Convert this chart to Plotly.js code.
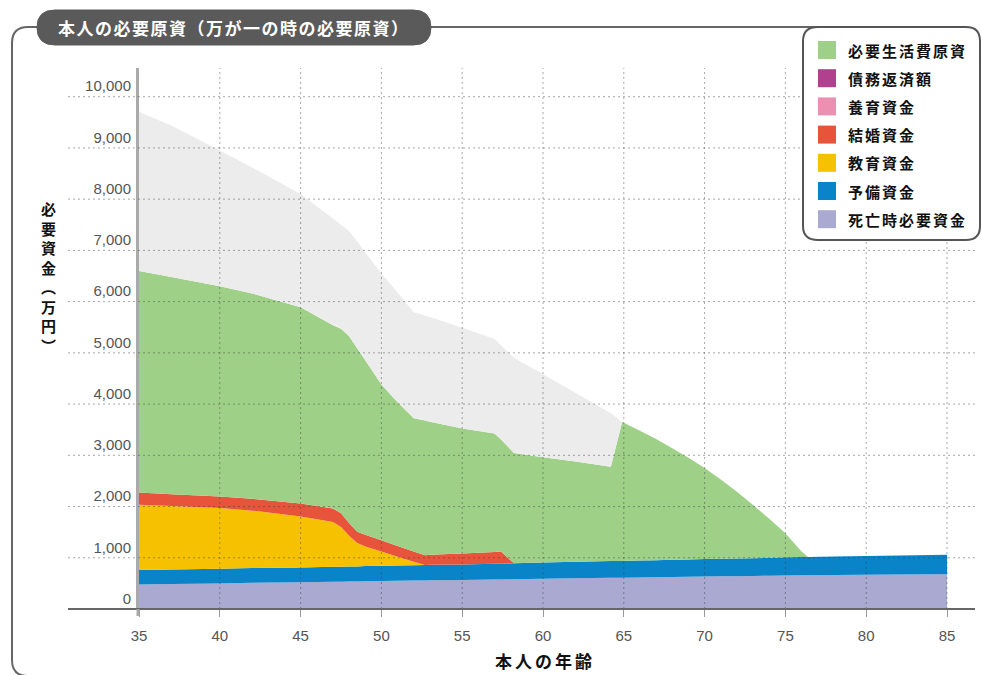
<!DOCTYPE html>
<html>
<head>
<meta charset="utf-8">
<script src="https://cdn.plot.ly/plotly-3.0.1.min.js"></script>
<style>html,body{margin:0;padding:0;background:#fff;}</style>
</head>
<body>
<div id="chart" style="width:981px;height:675px;"></div>
<script>
// ---- data (万円), stacked from the bottom ----
const AGES = [35,37,40,42,45,47,47.5,48,48.5,49,50,51,52,52.7,53,55,57,57.4,58.2,60,62,64.2,64.9,66,67,68,69,70,71,72,73,74,75,76,76.4,78,80,82,85];
const DEATH_FUND = [480,490,500,510,520,530,530,535,535,540,545,550,555,555,560,565,575,575,580,590,600,610,610,615,620,625,630,635,640,640,645,650,655,660,660,665,670,675,680];
const RESERVE_FUND = [280,283,285,288,290,293,293,295,295,297,298,300,300,302,302,305,310,310,312,316,320,325,327,330,332,335,338,340,343,345,348,350,353,355,356,360,364,368,377];
const EDUCATION_FUND = [1275,1237,1185,1122,996,877,777,600,460,385,279,170,65,0,0,0,0,0,0,0,0,0,0,0,0,0,0,0,0,0,0,0,0,0,0,0,0,0,0];
const MARRIAGE_FUND = [241,230,228,230,255,260,270,250,220,228,218,210,200,193,198,215,230,235,0,0,0,0,0,0,0,0,0,0,0,0,0,0,0,0,0,0,0,0,0];
const CHILDCARE_FUND = [0,0,0,0,0,0,0,0,0,0,0,0,0,0,0,0,0,0,0,0,0,0,0,0,0,0,0,0,0,0,0,0,0,0,0,0,0,0,0];
const DEBT_REPAY = [0,0,0,0,0,0,0,0,0,0,0,0,0,0,0,0,0,0,0,0,0,0,0,0,0,0,0,0,0,0,0,0,0,0,0,0,0,0,0];
const LIVING_FUND = [4324,4240,4102,4010,3829,3580,3600,3645,3580,3405,3044,2805,2604,2627,2597,2438,2310,2190,2155,2054,1960,1840,2713,2535,2368,2180,1982,1775,1547,1305,1037,760,472,105,0,0,0,0,0];
const GRAY_BAND = [3100,2960,2650,2460,2210,2080,2030,2055,2090,2105,2166,2145,2066,2053,2043,1967,1845,1840,1858,1620,1340,1045,0,0,0,0,0,0,0,0,0,0,0,0,0,0,0,0,0];

const LEGEND_NAMES = ['必要生活費原資','債務返済額','養育資金','結婚資金','教育資金','予備資金','死亡時必要資金'];
const LEGEND_COLORS = ['#9ed088','#b0418e','#ec90b2','#e8543b','#f6c200','#0a84c9','#a9a9d1'];
const X_TICKS = [35,40,45,50,55,60,65,70,75,80,85];
const Y_TICKS = [0,1000,2000,3000,4000,5000,6000,7000,8000,9000,10000];
const TITLE = '本人の必要原資（万が一の時の必要原資）';
const X_TITLE = '本人の年齢';
const Y_TITLE_CHARS = ['必','要','資','金','︵','万','円','︶'];

// ---- layout geometry (pixels) ----
const W = 981, H = 675, ML = 139, MR = 6, MT = 68, MB = 66;
const PW = W - ML - MR, PH = H - MT - MB;
const PX = X => (X - ML) / PW;
const PY = Y => (H - MB - Y) / PH;
const P = (X, Y) => PX(X).toFixed(5) + ',' + PY(Y).toFixed(5);

const stackOrder = [
  {y: DEATH_FUND, name: LEGEND_NAMES[6], color: LEGEND_COLORS[6]},
  {y: RESERVE_FUND, name: LEGEND_NAMES[5], color: LEGEND_COLORS[5]},
  {y: EDUCATION_FUND, name: LEGEND_NAMES[4], color: LEGEND_COLORS[4]},
  {y: MARRIAGE_FUND, name: LEGEND_NAMES[3], color: LEGEND_COLORS[3]},
  {y: CHILDCARE_FUND, name: LEGEND_NAMES[2], color: LEGEND_COLORS[2]},
  {y: DEBT_REPAY, name: LEGEND_NAMES[1], color: LEGEND_COLORS[1]},
  {y: LIVING_FUND, name: LEGEND_NAMES[0], color: LEGEND_COLORS[0]},
  {y: GRAY_BAND, name: 'その他', color: '#ececec'}
];
const traces = stackOrder.map(s => ({
  type: 'scatter', x: AGES, y: s.y, name: s.name, stackgroup: 'one',
  mode: 'none', fill: 'tonexty', fillcolor: s.color, showlegend: false, hoverinfo: 'skip'
}));

const GRID = 'rgba(60,60,60,0.45)';
const shapes = [];
// horizontal grid (extends left beneath tick labels)
Y_TICKS.forEach(v => {
  if (v === 0) return;
  shapes.push({type: 'line', layer: 'above', xref: 'paper', yref: 'y', x0: PX(68), x1: PX(975), y0: v, y1: v,
    line: {color: GRID, width: 1, dash: '2px,3px'}});
});
// vertical grid
X_TICKS.forEach(v => {
  if (v === 35) return;
  shapes.push({type: 'line', layer: 'above', xref: 'x', yref: 'paper', x0: v, x1: v, y0: 0, y1: 1,
    line: {color: GRID, width: 1, dash: '2px,3px'}});
});
// x axis line extension to the left
shapes.push({type: 'line', layer: 'above', xref: 'paper', yref: 'paper', x0: PX(68), x1: PX(975), y0: 0, y1: 0,
  line: {color: '#666', width: 2}});
// y axis line running a little below the x axis
shapes.push({type: 'line', layer: 'above', xref: 'paper', yref: 'paper', x0: PX(138), x1: PX(138), y0: PY(609), y1: PY(616),
  line: {color: '#aaa', width: 3}});
// outer frame
shapes.push({type: 'path', layer: 'above', xref: 'paper', yref: 'paper',
  path: 'M' + P(37, 27) + ' L' + P(28, 27) + ' Q' + P(12, 27) + ' ' + P(12, 43) +
        ' L' + P(12, 660) + ' Q' + P(12, 676) + ' ' + P(28, 676) + ' L' + P(981, 676),
  line: {color: '#666', width: 2}});
shapes.push({type: 'line', layer: 'above', xref: 'paper', yref: 'paper', x0: PX(431), x1: PX(818), y0: PY(27), y1: PY(27),
  line: {color: '#666', width: 2}});
// title pill
shapes.push({type: 'path', layer: 'above', xref: 'paper', yref: 'paper',
  path: 'M' + P(55, 10) + ' L' + P(413, 10) + ' Q' + P(431, 10) + ' ' + P(431, 27.5) +
        ' Q' + P(431, 45) + ' ' + P(413, 45) + ' L' + P(55, 45) + ' Q' + P(37, 45) + ' ' + P(37, 27.5) +
        ' Q' + P(37, 10) + ' ' + P(55, 10) + ' Z',
  fillcolor: '#5a5a5a', line: {color: '#5a5a5a', width: 1}});
// legend box
shapes.push({type: 'path', layer: 'above', xref: 'paper', yref: 'paper',
  path: 'M' + P(818, 27) + ' L' + P(966, 27) + ' Q' + P(980, 27) + ' ' + P(980, 41) +
        ' L' + P(980, 226) + ' Q' + P(980, 240) + ' ' + P(966, 240) + ' L' + P(818, 240) +
        ' Q' + P(803, 240) + ' ' + P(803, 226) + ' L' + P(803, 41) + ' Q' + P(803, 27) + ' ' + P(818, 27) + ' Z',
  fillcolor: '#ffffff', line: {color: '#555', width: 2}});

const JP = '"Noto Sans CJK JP", "Noto Sans", sans-serif';
const annotations = [];
const LEG_Y0 = 50, LEG_DY = 28.2;
LEGEND_NAMES.forEach((n, i) => {
  const yc = LEG_Y0 + i * LEG_DY;
  shapes.push({type: 'rect', layer: 'above', xref: 'paper', yref: 'paper',
    x0: PX(818), x1: PX(836), y0: PY(yc + 9), y1: PY(yc - 9), fillcolor: LEGEND_COLORS[i], line: {width: 0}});
  annotations.push({xref: 'paper', yref: 'paper', x: PX(846), y: PY(yc), xanchor: 'left', yanchor: 'middle',
    showarrow: false, text: '<b><span style="letter-spacing:2px">' + n + '</span></b>',
    font: {family: JP, size: 15, color: '#111'}});
});
annotations.push({xref: 'paper', yref: 'paper', x: PX(234), y: PY(28), xanchor: 'center', yanchor: 'middle',
  showarrow: false, text: '<b><span style="letter-spacing:1.5px">' + TITLE + '</span></b>',
  font: {family: JP, size: 17, color: '#ffffff'}});
annotations.push({xref: 'paper', yref: 'paper', x: PX(545), y: PY(660), xanchor: 'center', yanchor: 'middle',
  showarrow: false, text: '<b><span style="letter-spacing:3px">' + X_TITLE + '</span></b>',
  font: {family: JP, size: 17, color: '#111'}});
annotations.push({xref: 'paper', yref: 'paper', x: PX(48), y: PY(277), xanchor: 'center', yanchor: 'middle',
  showarrow: false, text: '<b>' + Y_TITLE_CHARS.join('<br>') + '</b>',
  font: {family: JP, size: 15, color: '#111'}});

const layout = {
  width: W, height: H, margin: {l: ML, r: MR, t: MT, b: MB},
  paper_bgcolor: '#ffffff', plot_bgcolor: 'rgba(0,0,0,0)', showlegend: false,
  xaxis: {range: [35, 35 + (975 - ML) / ((947 - ML) / 50)], tickmode: 'array', tickvals: X_TICKS,
    showgrid: false, zeroline: false, showline: false,
    ticks: 'outside', ticklen: 7, tickcolor: '#999', tickwidth: 1, ticklabelstandoff: 6,
    tickfont: {family: '"Liberation Sans", Arial, sans-serif', size: 15, color: '#555'}},
  yaxis: {range: [0, 10560], tickmode: 'array', tickvals: Y_TICKS, tickformat: ',d',
    showgrid: false, zeroline: false, showline: true, linecolor: '#aaa', linewidth: 3, ticks: '',
    ticklabelposition: 'outside top', ticklabelstandoff: 2,
    tickfont: {family: '"Liberation Sans", Arial, sans-serif', size: 15, color: '#555'}},
  shapes: shapes, annotations: annotations
};

Plotly.newPlot('chart', traces, layout, {staticPlot: true, displayModeBar: false});
</script>
</body>
</html>
